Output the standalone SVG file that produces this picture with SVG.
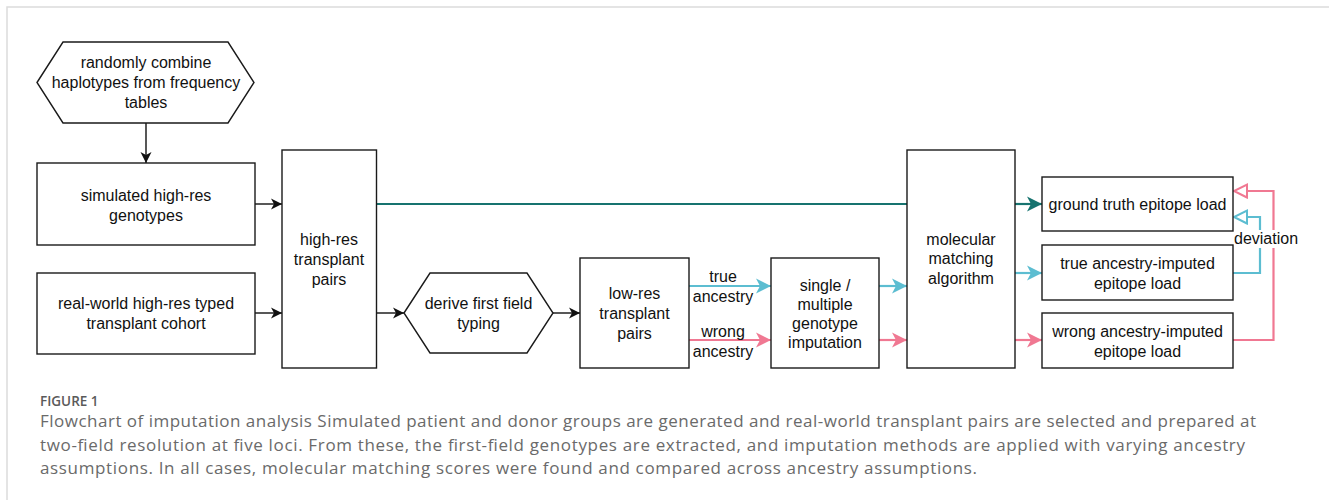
<svg xmlns="http://www.w3.org/2000/svg" width="1329" height="500" viewBox="0 0 1329 500">
<style>
.n{fill:#fff;stroke:#1a1a1a;stroke-width:1.4}
.t{font-family:"Liberation Sans",Arial,sans-serif;font-size:16px;fill:#111;text-anchor:middle}
.k{fill:none;stroke:#111;stroke-width:1.4}
.teal{fill:none;stroke:#16736f;stroke-width:2.2}
.blue{fill:none;stroke:#5cbdd1;stroke-width:2.2}
.pink{fill:none;stroke:#f07892;stroke-width:2.2}
.cap{font-family:"Open Sans","Noto Sans",sans-serif;fill:#6a6a6a;font-size:17px}
</style>
<defs>
<marker id="ak" markerUnits="userSpaceOnUse" markerWidth="12" markerHeight="12" refX="11" refY="5.5" orient="auto" overflow="visible"><path d="M0,0 L11,5.5 L0,11 L3,5.5 Z" fill="#111"/></marker>
<marker id="at" markerUnits="userSpaceOnUse" markerWidth="16" markerHeight="16" refX="15" refY="7.5" orient="auto" overflow="visible"><path d="M0,0 L15,7.5 L0,15 L4,7.5 Z" fill="#16736f"/></marker>
<marker id="ab" markerUnits="userSpaceOnUse" markerWidth="16" markerHeight="16" refX="15" refY="7.5" orient="auto" overflow="visible"><path d="M0,0 L15,7.5 L0,15 L4,7.5 Z" fill="#5cbdd1"/></marker>
<marker id="ap" markerUnits="userSpaceOnUse" markerWidth="16" markerHeight="16" refX="15" refY="7.5" orient="auto" overflow="visible"><path d="M0,0 L15,7.5 L0,15 L4,7.5 Z" fill="#f07892"/></marker>
<marker id="ob" markerUnits="userSpaceOnUse" markerWidth="14" markerHeight="14" refX="13" refY="6.5" orient="auto" overflow="visible"><path d="M0,0 L13,6.5 L0,13 Z" fill="#fff" stroke="#5cbdd1" stroke-width="2"/></marker>
<marker id="op" markerUnits="userSpaceOnUse" markerWidth="14" markerHeight="14" refX="13" refY="6.5" orient="auto" overflow="visible"><path d="M0,0 L13,6.5 L0,13 Z" fill="#fff" stroke="#f07892" stroke-width="2"/></marker>
</defs>
<rect x="0" y="0" width="1329" height="500" fill="#fff"/>
<path d="M7,500 V7 H1329" fill="none" stroke="#dcdcdc" stroke-width="1.5"/>

<g id="connectors">
<path class="k" d="M146,123 V163" marker-end="url(#ak)"/>
<path class="k" d="M255,204 H282" marker-end="url(#ak)"/>
<path class="k" d="M255,313 H282" marker-end="url(#ak)"/>
<path class="k" d="M376.5,313 H404" marker-end="url(#ak)"/>
<path class="k" d="M553,313 H580" marker-end="url(#ak)"/>
<path class="teal" d="M376.5,204 H907"/>
<path class="blue" d="M689,286 H771" marker-end="url(#ab)"/>
<path class="pink" d="M689,340 H771" marker-end="url(#ap)"/>
<path class="blue" d="M879,286 H907" marker-end="url(#ab)"/>
<path class="pink" d="M879,340 H907" marker-end="url(#ap)"/>
<path class="teal" d="M1015,204 H1042" marker-end="url(#at)"/>
<path class="blue" d="M1015,273 H1042" marker-end="url(#ab)"/>
<path class="pink" d="M1015,340 H1042" marker-end="url(#ap)"/>
<path class="blue" d="M1233,273 H1260 V217 H1234" marker-end="url(#ob)"/>
<path class="pink" d="M1233,340 H1273.5 V191 H1234" marker-end="url(#op)"/>
<text class="t" x="723" y="282">true</text>
<text class="t" x="723" y="302">ancestry</text>
<text class="t" x="723" y="337">wrong</text>
<text class="t" x="723" y="357">ancestry</text>
<rect x="1234" y="230" width="64" height="18" fill="#fff"/>
<text class="t" x="1234" y="243.5" style="text-anchor:start">deviation</text>
</g>

<g id="n-random">
<polygon class="n" points="37,82.5 63,42 228,42 254,82.5 228,123 63,123"/>
<text class="t" x="146" y="67.5">randomly combine</text>
<text class="t" x="146" y="87.5">haplotypes from frequency</text>
<text class="t" x="146" y="107.5">tables</text>
</g>
<g id="n-simulated">
<rect class="n" x="37" y="163" width="218" height="82"/>
<text class="t" x="146" y="200.5">simulated high-res</text>
<text class="t" x="146" y="220.5">genotypes</text>
</g>
<g id="n-realworld">
<rect class="n" x="37" y="273" width="218" height="81"/>
<text class="t" x="146" y="308.5">real-world high-res typed</text>
<text class="t" x="146" y="328.5">transplant cohort</text>
</g>
<g id="n-highres">
<rect class="n" x="282" y="150" width="94.5" height="218"/>
<text class="t" x="329" y="244.5">high-res</text>
<text class="t" x="329" y="264.5">transplant</text>
<text class="t" x="329" y="284.5">pairs</text>
</g>
<g id="n-derive">
<polygon class="n" points="404,313 430,273 527,273 553,313 527,353 430,353"/>
<text class="t" x="478.5" y="308.5">derive first field</text>
<text class="t" x="478.5" y="328.5">typing</text>
</g>
<g id="n-lowres">
<rect class="n" x="580" y="258" width="109" height="110"/>
<text class="t" x="634.5" y="299">low-res</text>
<text class="t" x="634.5" y="319">transplant</text>
<text class="t" x="634.5" y="339">pairs</text>
</g>
<g id="n-single">
<rect class="n" x="771" y="258" width="108" height="110"/>
<text class="t" x="825" y="290.5">single /</text>
<text class="t" x="825" y="309.5">multiple</text>
<text class="t" x="825" y="328.5">genotype</text>
<text class="t" x="825" y="348">imputation</text>
</g>
<g id="n-molecular">
<rect class="n" x="907" y="150" width="108" height="218"/>
<text class="t" x="961" y="244.5">molecular</text>
<text class="t" x="961" y="264">matching</text>
<text class="t" x="961" y="283.5">algorithm</text>
</g>
<g id="n-ground">
<rect class="n" x="1042" y="177" width="191" height="54"/>
<text class="t" x="1137.5" y="209.5">ground truth epitope load</text>
</g>
<g id="n-trueimp">
<rect class="n" x="1042" y="245" width="191" height="55"/>
<text class="t" x="1137.5" y="268.5">true ancestry-imputed</text>
<text class="t" x="1137.5" y="288.5">epitope load</text>
</g>
<g id="n-wrongimp">
<rect class="n" x="1042" y="313" width="191" height="55"/>
<text class="t" x="1137.5" y="336.5">wrong ancestry-imputed</text>
<text class="t" x="1137.5" y="356.5">epitope load</text>
</g>

<g id="caption">
<text x="40" y="405.5" style="font-family:'Open Sans','Noto Sans',sans-serif;font-weight:600;font-size:13.5px;fill:#5a5a5a">FIGURE 1</text>
<text class="cap" x="40" y="427" textLength="1216" lengthAdjust="spacing">Flowchart of imputation analysis Simulated patient and donor groups are generated and real-world transplant pairs are selected and prepared at</text>
<text class="cap" x="40" y="450.5" textLength="1205" lengthAdjust="spacing">two-field resolution at five loci. From these, the first-field genotypes are extracted, and imputation methods are applied with varying ancestry</text>
<text class="cap" x="40" y="473.5" textLength="937" lengthAdjust="spacing">assumptions. In all cases, molecular matching scores were found and compared across ancestry assumptions.</text>
</g>
</svg>
